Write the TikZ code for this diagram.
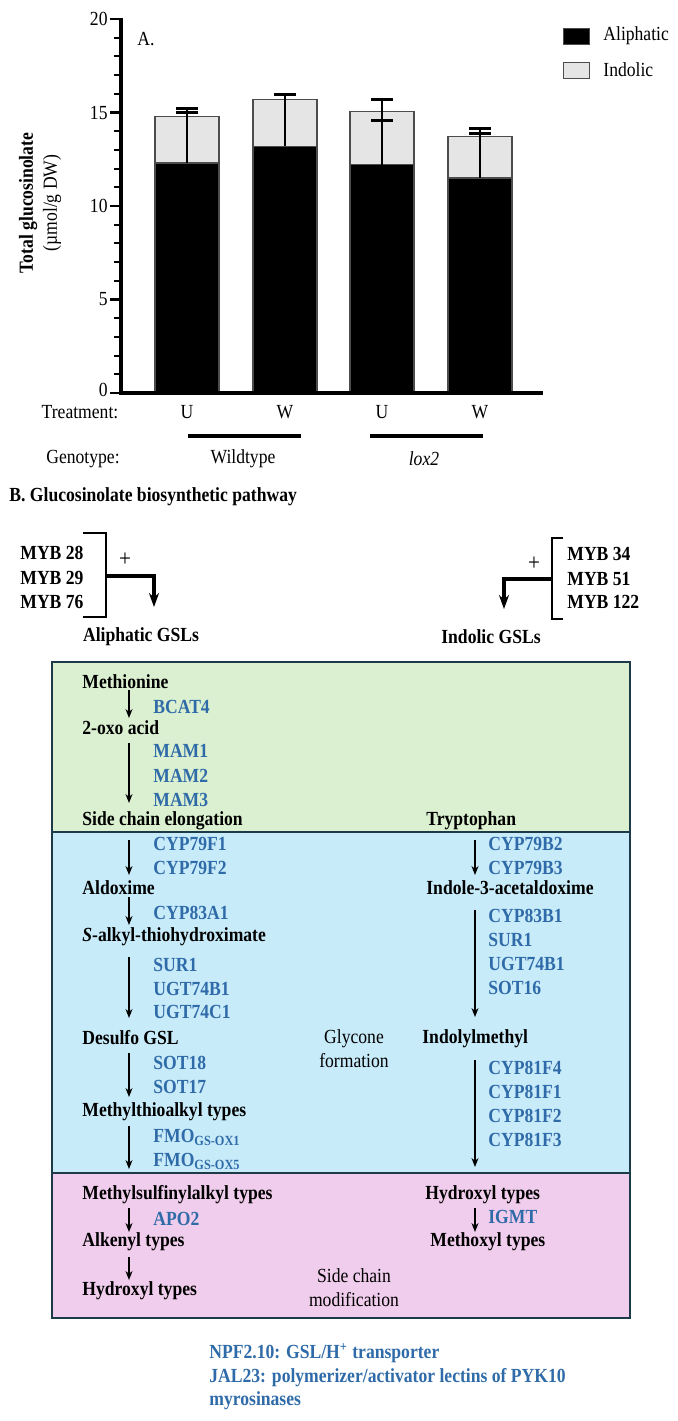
\documentclass[tikz,border=0pt]{standalone}
\usepackage{fontspec}
\setmainfont{Liberation Serif}[FakeStretch=0.88]
\usetikzlibrary{arrows.meta}
\definecolor{gbg}{HTML}{DAF0D0}
\definecolor{bbg}{HTML}{C8EBFA}
\definecolor{pbg}{HTML}{F0CDEC}
\definecolor{enzc}{HTML}{2F6BA8}
\definecolor{boxc}{HTML}{1C3A48}
\begin{document}
\begin{tikzpicture}[x=0.5pt,y=-0.5pt,
  t/.style={inner sep=0pt,font=\fontsize{10}{12}\selectfont},
  lbl/.style={t,anchor=west,font=\fontsize{10}{12}\selectfont\bfseries},
  enz/.style={lbl,text=enzc},
  arr/.style={line width=0.6pt,-{Stealth[length=4.5pt,width=3.5pt]}},
  bigarr/.style={line width=1.6pt,-{Stealth[length=7pt,width=5pt]}},
  bar/.style={draw=black!70,line width=0.6pt}]
\useasboundingbox (0,0) rectangle (678,1421);
% ---------- chart ----------
\def\Y#1{393-#1*18.7}
\foreach \v in {1,...,19}{\draw[line width=1pt] (121,{\Y{\v}}) -- (114,{\Y{\v}});}
\foreach \v in {5,10,15,20}{\draw[line width=1.2pt] (121,{\Y{\v}}) -- (110,{\Y{\v}});
  \node[t,anchor=east] (tk\v) at (108,{\Y{\v}}) {\v};}
\draw[line width=1.2pt] (121,393) -- (110,393);
\node[t,anchor=east] (tk0) at (108,390) {0};
% bars: center, aliphatic, total, caps
\foreach \c/\a/\tt/\ca/\cb in {187/12.3/14.8/15.22/15.0, 285/13.2/15.7/15.95/15.95, 382/12.2/15.05/15.7/14.55, 480/11.5/13.7/14.12/13.9}{
  \fill[bar,fill=black] ({\c-32},393) rectangle ({\c+32},{\Y{\a}});
  \draw[bar,fill=black!10] ({\c-32},{\Y{\a}}) rectangle ({\c+32},{\Y{\tt}});
  \draw[line width=1.2pt] (\c,{\Y{\a}}) -- (\c,{\Y{\ca}});
  \draw[line width=1.5pt] ({\c-11},{\Y{\ca}}) -- ({\c+11},{\Y{\ca}});
  \draw[line width=1.5pt] ({\c-11},{\Y{\cb}}) -- ({\c+11},{\Y{\cb}});
}
\draw[line width=1.6pt] (121,18) -- (121,393) -- (543,393);
\node[t,anchor=west] (A) at (137,39) {A.};
\node[t,rotate=90,align=center] (ylab) at (40,203) {\textbf{Total glucosinolate}\\(µmol/g DW)};
\fill[draw=black!70,fill=black] (563,28) rectangle (589,44);
\node[t,anchor=west] (lg1) at (603,36) {Aliphatic};
\draw[draw=black!70,fill=black!10] (563,62) rectangle (589,78);
\node[t,anchor=west] (lg2) at (603,70) {Indolic};
\node[t] (trt) at (80,412) {Treatment:};
\node[t] (u1) at (187,412) {U};
\node[t] (w1) at (285,412) {W};
\node[t] (u2) at (382,412) {U};
\node[t] (w2) at (480,412) {W};
\draw[line width=1.8pt] (188,436) -- (301,436);
\draw[line width=1.8pt] (370,436) -- (483,436);
\node[t] (gen) at (83,459) {Genotype:};
\node[t] (wt) at (243,459) {Wildtype};
\node[t] (lox) at (424,459) {\itshape lox2};
\node[lbl] (B) at (9,497) {B. Glucosinolate biosynthetic pathway};
% ---------- regulators ----------
\node[lbl] (m28) at (20,553) {MYB 28};
\node[lbl] (m29) at (20,578) {MYB 29};
\node[lbl] (m76) at (20,602) {MYB 76};
\draw[line width=1.4pt] (83,533) -- (106,533) -- (106,617) -- (83,617);
\node[t] (p1) at (125,560) {\large +};
\coordinate (la) at (106,576);
\coordinate (lb) at (154,576);
\coordinate (lc) at (154,607);
\draw[bigarr] (la) -- (lb) -- (lc);
\node[lbl,anchor=center] (alg) at (141,637) {Aliphatic GSLs};
\node[lbl] (m34) at (567,554) {MYB 34};
\node[lbl] (m51) at (567,579) {MYB 51};
\node[lbl] (m122) at (567,602) {MYB 122};
\draw[line width=1.4pt] (563,538) -- (552,538) -- (552,619) -- (563,619);
\node[t] (p2) at (534,564) {\large +};
\coordinate (ra) at (552,579);
\coordinate (rb) at (504,579);
\coordinate (rc) at (504,609);
\draw[bigarr] (ra) -- (rb) -- (rc);
\node[lbl,anchor=center] (ing) at (491,637) {Indolic GSLs};
% ---------- boxes ----------
\fill[gbg] (52,662) rectangle (630,832);
\fill[bbg] (52,832) rectangle (630,1173);
\fill[pbg] (52,1173) rectangle (630,1318);
\draw[boxc,line width=1.2pt] (52,662) rectangle (630,1318);
\draw[boxc,line width=1.2pt] (52,832) -- (630,832);
\draw[boxc,line width=1.2pt] (52,1173) -- (630,1173);
% left column
\node[lbl] (met) at (82,682) {Methionine};
\node[enz] (bcat) at (153,707) {BCAT4};
\node[lbl] (oxo) at (82,728) {2-oxo acid};
\node[enz] (mam1) at (153,751) {MAM1};
\node[enz] (mam2) at (153,776) {MAM2};
\node[enz] (mam3) at (153,800) {MAM3};
\node[lbl] (sce) at (82,821) {Side chain elongation};
\node[enz] (f1) at (153,844) {CYP79F1};
\node[enz] (f2) at (153,868) {CYP79F2};
\node[lbl] (ald) at (82,888) {Aldoxime};
\node[enz] (a1) at (153,913) {CYP83A1};
\node[lbl] (sal) at (82,937) {\textit{S}-alkyl-thiohydroximate};
\node[enz] (sur) at (153,965) {SUR1};
\node[enz] (ub1) at (153,989) {UGT74B1};
\node[enz] (uc1) at (153,1012) {UGT74C1};
\node[lbl] (des) at (82,1038) {Desulfo GSL};
\node[enz] (s18) at (153,1063) {SOT18};
\node[enz] (s17) at (153,1087) {SOT17};
\node[lbl] (mta) at (82,1112) {Methylthioalkyl types};
\node[enz] (fm1) at (153,1137) {FMO\textsubscript{GS-OX1}};
\node[enz] (fm5) at (153,1161) {FMO\textsubscript{GS-OX5}};
\node[lbl] (msa) at (82,1195) {Methylsulfinylalkyl types};
\node[enz] (apo) at (153,1219) {APO2};
\node[lbl] (alk) at (82,1242) {Alkenyl types};
\node[lbl] (hyl) at (82,1291) {Hydroxyl types};
\foreach \n/\a/\b in {1/690/718,2/743/803,3/840/875,4/897/925,5/957/1018,6/1053/1097,7/1126/1169,8/1208/1232,9/1257/1280}{
  \coordinate (ls\n) at (129,\a); \coordinate (le\n) at (129,\b);
  \draw[arr] (ls\n) -- (le\n);}
% middle labels
\node[t,align=center] (gly) at (354,1049) {Glycone\\formation};
\node[t,align=center] (scm) at (354,1288) {Side chain\\modification};
% right column
\node[lbl] (trp) at (426,821) {Tryptophan};
\node[enz] (b2) at (488,844) {CYP79B2};
\node[enz] (b3) at (488,868) {CYP79B3};
\node[lbl] (iaa) at (426,888) {Indole-3-acetaldoxime};
\node[enz] (b1) at (488,916) {CYP83B1};
\node[enz] (rsur) at (488,940) {SUR1};
\node[enz] (rub) at (488,964) {UGT74B1};
\node[enz] (s16) at (488,988) {SOT16};
\node[lbl] (ind) at (422,1039) {Indolylmethyl};
\node[enz] (f4) at (488,1068) {CYP81F4};
\node[enz] (ff1) at (488,1092) {CYP81F1};
\node[enz] (ff2) at (488,1116) {CYP81F2};
\node[enz] (ff3) at (488,1140) {CYP81F3};
\node[lbl] (hyr) at (425,1195) {Hydroxyl types};
\node[enz] (igmt) at (488,1217) {IGMT};
\node[lbl] (mxt) at (430,1242) {Methoxyl types};
\foreach \n/\a/\b in {1/840/875,2/910/1017,3/1060/1167,4/1208/1232}{
  \coordinate (rs\n) at (475,\a); \coordinate (re\n) at (475,\b);
  \draw[arr] (rs\n) -- (re\n);}
% notes
\node[enz] (npf) at (209,1353) {NPF2.10: GSL/H\textsuperscript{+} transporter};
\node[enz] (jal) at (209,1378) {JAL23: polymerizer/activator lectins of PYK10};
\node[enz] (myr) at (209,1401) {myrosinases};
\end{tikzpicture}
\end{document}
